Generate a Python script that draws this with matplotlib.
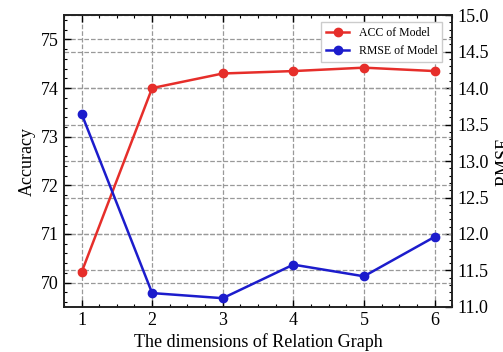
import matplotlib.pyplot as plt
from matplotlib.ticker import AutoMinorLocator, MultipleLocator, FormatStrFormatter

# data
dims = [1, 2, 3, 4, 5, 6]
acc = [70.21, 74.0, 74.3, 74.35, 74.42, 74.35]
rmse = [13.65, 11.19, 11.12, 11.58, 11.42, 11.96]

plt.rcParams['font.family'] = ['Liberation Serif', 'DejaVu Serif']
plt.rcParams['mathtext.fontset'] = 'stix'

font_size = 13
red = '#e62e2a'
blue = '#1c1ccc'

fig, ax = plt.subplots(figsize=(5.03, 3.52), dpi=100)
fig.subplots_adjust(left=0.127, right=0.899, top=0.957, bottom=0.128)
ax2 = ax.twinx()

ax.set_xlim(0.75, 6.25)
ax.set_ylim(69.5, 75.5)
ax2.set_ylim(11.0, 15.0)

# both lines live on the top axes so every grid line stays underneath;
# the RMSE line uses the right axis scale through its transform
l1, = ax.plot(dims, acc, color=red, marker='o', markersize=6, linewidth=1.8, label='ACC of Model')
l2, = ax.plot(dims, rmse, color=blue, marker='o', markersize=6, linewidth=1.8, label='RMSE of Model',
              transform=ax2.transData)
ax.set_ylim(69.5, 75.5)

ax.xaxis.set_major_locator(MultipleLocator(1))
ax.xaxis.set_minor_locator(AutoMinorLocator(4))
ax.yaxis.set_major_locator(MultipleLocator(1))
ax.yaxis.set_minor_locator(AutoMinorLocator(5))
ax2.yaxis.set_major_locator(MultipleLocator(0.5))
ax2.yaxis.set_minor_locator(AutoMinorLocator(5))
ax2.yaxis.set_major_formatter(FormatStrFormatter('%.1f'))

# ticks pointing inward, minor ticks on top too
ax.tick_params(which='both', direction='in', top=True, right=False, labelsize=font_size)
ax.tick_params(which='major', length=5, width=1)
ax.tick_params(which='minor', length=2.5, width=0.8)
ax2.tick_params(which='both', direction='in', labelsize=font_size)
ax2.tick_params(which='major', length=5, width=1)
ax2.tick_params(which='minor', length=2.5, width=0.8)

# dashed grid from both y axes
ax.grid(True, which='major', linestyle='--', color='#999999', linewidth=0.9)
ax2.grid(True, which='major', axis='y', linestyle='--', color='#999999', linewidth=0.9)
ax.set_axisbelow(True)
ax.set_zorder(ax2.get_zorder() + 1)
ax.patch.set_visible(False)

for a in (ax, ax2):
    for s in a.spines.values():
        s.set_linewidth(1.2)
        s.set_color('#222222')

ax.set_xlabel('The dimensions of Relation Graph', fontsize=font_size, labelpad=3)
ax.set_ylabel('Accuracy', fontsize=font_size, labelpad=4)
ax2.set_ylabel('RMSE', fontsize=font_size, labelpad=5)

ax.legend(handles=[l1, l2], loc='upper right', fontsize=8.5, framealpha=1,
          edgecolor='#cccccc', fancybox=False, handlelength=2.0, borderpad=0.4,
          bbox_to_anchor=(0.99, 0.995))

fig.savefig('out.png', dpi=100)
